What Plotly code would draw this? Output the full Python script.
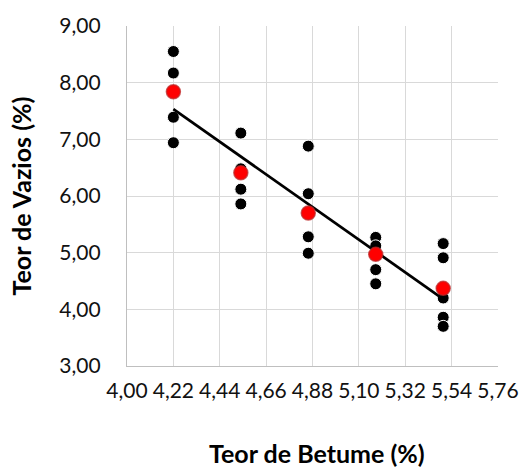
import numpy as np
import plotly.graph_objects as go

# Bitumen content levels (%)
betume = [4.22, 4.54, 4.86, 5.18, 5.50]

# Individual specimen void contents (%) per bitumen level
amostras_x = [4.22, 4.22, 4.22, 4.22,
              4.54, 4.54, 4.54, 4.54,
              4.86, 4.86, 4.86, 4.86,
              5.18, 5.18, 5.18, 5.18,
              5.50, 5.50, 5.50, 5.50, 5.50]
amostras_y = [8.55, 8.17, 7.39, 6.94,
              7.11, 6.48, 6.12, 5.86,
              6.88, 6.04, 5.28, 4.99,
              5.27, 5.12, 4.70, 4.45,
              5.16, 4.91, 4.20, 3.86, 3.70]

# Mean void content per bitumen level (%)
media_vazios = [7.84, 6.41, 5.70, 4.97, 4.37]

# Axis ticks
x_ticks = [4.00, 4.22, 4.44, 4.66, 4.88, 5.10, 5.32, 5.54, 5.76]
y_ticks = [3.00, 4.00, 5.00, 6.00, 7.00, 8.00, 9.00]

def fmt(v):
    return f"{v:.2f}".replace(".", ",")

# Linear trend fitted to the mean values
slope, intercept = np.polyfit(betume, media_vazios, 1)
trend_x = [betume[0], betume[-1]]
trend_y = [slope * x + intercept for x in trend_x]

FONT = "Lato, 'Open Sans', sans-serif"

fig = go.Figure()

fig.add_trace(go.Scatter(
    x=amostras_x, y=amostras_y, mode="markers",
    marker=dict(size=12, color="#000000", line=dict(color="#ffffff", width=1)),
    showlegend=False, hoverinfo="x+y",
))

fig.add_trace(go.Scatter(
    x=trend_x, y=trend_y, mode="lines",
    line=dict(color="#000000", width=2.75),
    showlegend=False, hoverinfo="skip",
))

fig.add_trace(go.Scatter(
    x=betume, y=media_vazios, mode="markers",
    marker=dict(size=14, color="#ff0000", line=dict(color="rgba(190,40,40,0.75)", width=1.5)),
    showlegend=False, hoverinfo="x+y",
))

grid = "#d9d9d9"

fig.update_xaxes(
    range=[4.00, 5.76],
    tickmode="array", tickvals=x_ticks, ticktext=[fmt(v) for v in x_ticks],
    showgrid=True, gridcolor=grid, gridwidth=1.3,
    showline=True, linecolor="#bfbfbf", linewidth=1.3,
    zeroline=False, ticks="", ticklabelstandoff=6,
    tickfont=dict(family=FONT, size=21, color="#111111"),
)
fig.update_yaxes(
    range=[3.00, 9.00],
    tickmode="array", tickvals=y_ticks, ticktext=[fmt(v) for v in y_ticks],
    showgrid=True, gridcolor=grid, gridwidth=1.3,
    showline=True, linecolor="#bfbfbf", linewidth=1.3,
    zeroline=False, ticks="", ticklabelstandoff=21,
    tickfont=dict(family=FONT, size=21, color="#111111"),
)

fig.update_layout(
    width=531, height=468,
    margin=dict(l=127, r=25, t=22, b=102),
    paper_bgcolor="#ffffff", plot_bgcolor="#ffffff",
    annotations=[
        dict(text="<b>Teor de Betume (%)</b>", xref="paper", yref="paper",
             x=0.512, y=-0.255, xanchor="center", yanchor="middle", showarrow=False,
             font=dict(family=FONT, size=25, color="#000000")),
        dict(text="<b>Teor de Vazios (%)</b>", xref="paper", yref="paper",
             x=-0.287, y=0.5, xanchor="center", yanchor="middle", textangle=-90,
             showarrow=False, font=dict(family=FONT, size=25, color="#000000")),
    ],
)

fig.write_html("out.html")
